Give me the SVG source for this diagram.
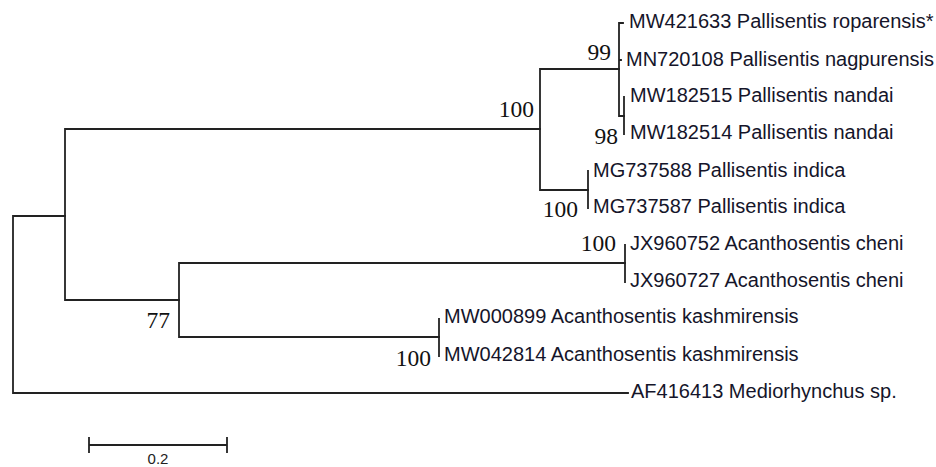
<svg xmlns="http://www.w3.org/2000/svg" width="936" height="467" viewBox="0 0 936 467">
<style>
.br{fill:none;stroke:#222;stroke-width:1.8;stroke-linecap:square}
.lab{font-family:"Liberation Sans",Arial,sans-serif;font-size:20px;fill:#15152a}
.bs{font-family:"Liberation Serif","Times New Roman",serif;font-size:23.5px;fill:#111;text-anchor:end}
.sc{font-family:"Liberation Sans",Arial,sans-serif;font-size:15px;fill:#222;text-anchor:middle}
</style>
<rect width="936" height="467" fill="#fff"/>
<g id="connectors">
<path class="br" d="M13,216V393M13,216H65M13,393H628"/>
<path class="br" d="M65,129V300M65,129H540M65,300H179"/>
<path class="br" d="M540,69V190M540,69H619M540,190H588"/>
<path class="br" d="M619,23V116M619,23H623M619,60H621M619,116H624"/>
<path class="br" d="M624,97V134"/>
<path class="br" d="M588,171V208"/>
<path class="br" d="M179,263V337M179,263H625M179,337H439"/>
<path class="br" d="M625,245V282"/>
<path class="br" d="M439,319V356"/>
</g>
<g id="node-pallisentis"><text class="bs" x="534" y="117">100</text></g>
<g id="node-99"><text class="bs" x="611" y="60">99</text></g>
<g id="node-98"><text class="bs" x="618" y="144">98</text></g>
<g id="node-indica"><text class="bs" x="578" y="217">100</text></g>
<g id="node-cheni"><text class="bs" x="616" y="251">100</text></g>
<g id="node-77"><text class="bs" x="170" y="328">77</text></g>
<g id="node-kashmirensis"><text class="bs" x="431" y="366">100</text></g>
<g id="leaf-MW421633"><text class="lab" x="629" y="28">MW421633 Pallisentis roparensis*</text></g>
<g id="leaf-MN720108"><text class="lab" x="626" y="66">MN720108 Pallisentis nagpurensis</text></g>
<g id="leaf-MW182515"><text class="lab" x="630" y="102">MW182515 Pallisentis nandai</text></g>
<g id="leaf-MW182514"><text class="lab" x="630" y="139">MW182514 Pallisentis nandai</text></g>
<g id="leaf-MG737588"><text class="lab" x="593" y="177">MG737588 Pallisentis indica</text></g>
<g id="leaf-MG737587"><text class="lab" x="593" y="213">MG737587 Pallisentis indica</text></g>
<g id="leaf-JX960752"><text class="lab" x="630" y="250">JX960752 Acanthosentis cheni</text></g>
<g id="leaf-JX960727"><text class="lab" x="630" y="287">JX960727 Acanthosentis cheni</text></g>
<g id="leaf-MW000899"><text class="lab" x="444" y="323">MW000899 Acanthosentis kashmirensis</text></g>
<g id="leaf-MW042814"><text class="lab" x="444" y="361">MW042814 Acanthosentis kashmirensis</text></g>
<g id="leaf-AF416413"><text class="lab" x="631" y="398">AF416413 Mediorhynchus sp.</text></g>
<g id="scale-bar">
<path class="br" d="M89,445H227M89,438V452M227,438V452"/>
<text class="sc" x="158" y="464">0.2</text>
</g>
</svg>
